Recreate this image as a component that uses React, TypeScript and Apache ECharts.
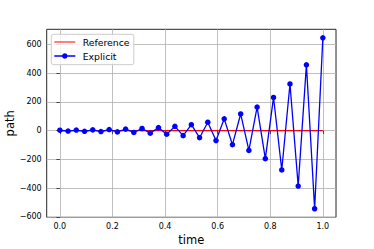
import React, { useEffect, useRef } from "react";
import * as echarts from "echarts";

const times: number[] = [
  0, 0.03125, 0.0625, 0.09375, 0.125, 0.15625, 0.1875, 0.21875, 0.25, 0.28125,
  0.3125, 0.34375, 0.375, 0.40625, 0.4375, 0.46875, 0.5, 0.53125, 0.5625,
  0.59375, 0.625, 0.65625, 0.6875, 0.71875, 0.75, 0.78125, 0.8125, 0.84375,
  0.875, 0.90625, 0.9375, 0.96875, 1,
];
const explicitValues: number[] = [
  2.7, -3.2, 3.8, -4.5, 5.3, -6.3, 7.5, -8.9, 10.5, -12.5, 14.8, -17.6, 20.9,
  -24.8, 29.4, -34.9, 41.4, -49.2, 58.4, -69.3, 82, -98, 116, -138, 164, -195,
  231, -274, 325, -386, 458, -544, 646,
];
const referenceTimes: number[] = [0, 1];
const referenceValues: number[] = [0, 0];
const xTicks: number[] = [0, 0.2, 0.4, 0.6, 0.8, 1.0];
const yTicks: number[] = [-600, -400, -200, 0, 200, 400, 600];

const refIcon =
  "path://M0,4.5 L21,4.5 L21,5.5 L0,5.5 Z M0,0 L0.01,0 L0.01,0.01 Z M0,10 L0.01,10 L0.01,9.99 Z";
const explicitIcon =
  "path://M0,4.25 L7.8,4.25 A2.8,2.8 0 0 1 13.2,4.25 L21,4.25 L21,5.75 L13.2,5.75 A2.8,2.8 0 0 1 7.8,5.75 L0,5.75 Z M0,0 L0.01,0 L0.01,0.01 Z M0,10 L0.01,10 L0.01,9.99 Z";

export default function App() {
  const ref = useRef<HTMLDivElement>(null);
  useEffect(() => {
    if (!ref.current) return;
    const chart = echarts.init(ref.current, null, { renderer: "svg" });
    const font = "DejaVu Sans";
    chart.setOption({
      animation: false,
      backgroundColor: "#ffffff",
      textStyle: { fontFamily: font },
      grid: {
        left: 46.7,
        right: 38,
        top: 29.3,
        bottom: 31.7,
        containLabel: false,
        outerBoundsMode: "none",
        show: true,
        borderColor: "#262626",
        borderWidth: 1,
        backgroundColor: "#ffffff",
      },
      legend: {
        orient: "vertical",
        left: 51.3,
        top: 34.3,
        padding: [2.2, 4.3, 3.2, 3],
        itemGap: 3,
        itemWidth: 21,
        itemHeight: 10,
        backgroundColor: "rgba(255,255,255,0.8)",
        borderColor: "#cccccc",
        borderWidth: 1,
        borderRadius: 2,
        textStyle: {
          fontSize: 9.3,
          lineHeight: 11,
          color: "#000",
          fontFamily: font,
          padding: [0, 0, 0, 2.4],
        },
        data: [
          { name: "Reference", icon: refIcon },
          { name: "Explicit", icon: explicitIcon },
        ],
      },
      xAxis: {
        type: "value",
        min: -0.05,
        max: 1.05,
        name: "time",
        nameLocation: "middle",
        nameGap: 17,
        nameMoveOverlap: false,
        nameTextStyle: { fontSize: 11.5, color: "#000", fontFamily: font },
        axisLine: { show: false },
        axisTick: {
          show: true,
          customValues: xTicks,
          length: 3.5,
          lineStyle: { color: "#262626", width: 0.8 },
        },
        axisLabel: {
          customValues: xTicks,
          fontSize: 8,
          color: "#000",
          margin: 5,
          fontFamily: font,
          formatter: (v: number) => v.toFixed(1),
        },
        splitLine: { show: true, lineStyle: { color: "#b0b0b0", width: 0.8 } },
      },
      yAxis: {
        type: "value",
        min: -603.5,
        max: 705.5,
        name: "path",
        nameLocation: "middle",
        nameGap: 31,
        nameMoveOverlap: false,
        nameTextStyle: { fontSize: 11.5, color: "#000", fontFamily: font },
        axisLine: { show: false },
        axisTick: {
          show: true,
          customValues: yTicks,
          length: 3.5,
          lineStyle: { color: "#262626", width: 0.8 },
        },
        axisLabel: {
          customValues: yTicks,
          fontSize: 8,
          color: "#000",
          margin: 5,
          fontFamily: font,
          formatter: (v: number) => (v < 0 ? "\u2212" + Math.abs(v) : String(v)),
        },
        splitLine: { show: true, lineStyle: { color: "#b0b0b0", width: 0.8 } },
      },
      series: [
        {
          name: "Reference",
          type: "line",
          data: referenceTimes.map((t, i) => [t, referenceValues[i]]),
          showSymbol: false,
          symbol: "none",
          lineStyle: { color: "#ff0000", width: 1.1 },
          itemStyle: { color: "#ff0000" },
          z: 2,
        },
        {
          name: "Explicit",
          type: "line",
          data: times.map((t, i) => [t, explicitValues[i]]),
          symbol: "circle",
          symbolSize: 5.5,
          lineStyle: { color: "#0000ff", width: 1.3 },
          itemStyle: { color: "#0000ff" },
          z: 3,
        },
      ],
    });
    return () => chart.dispose();
  }, []);
  return <div ref={ref} style={{ width: 374, height: 249, position: "absolute", left: 0, top: 0 }} />;
}
